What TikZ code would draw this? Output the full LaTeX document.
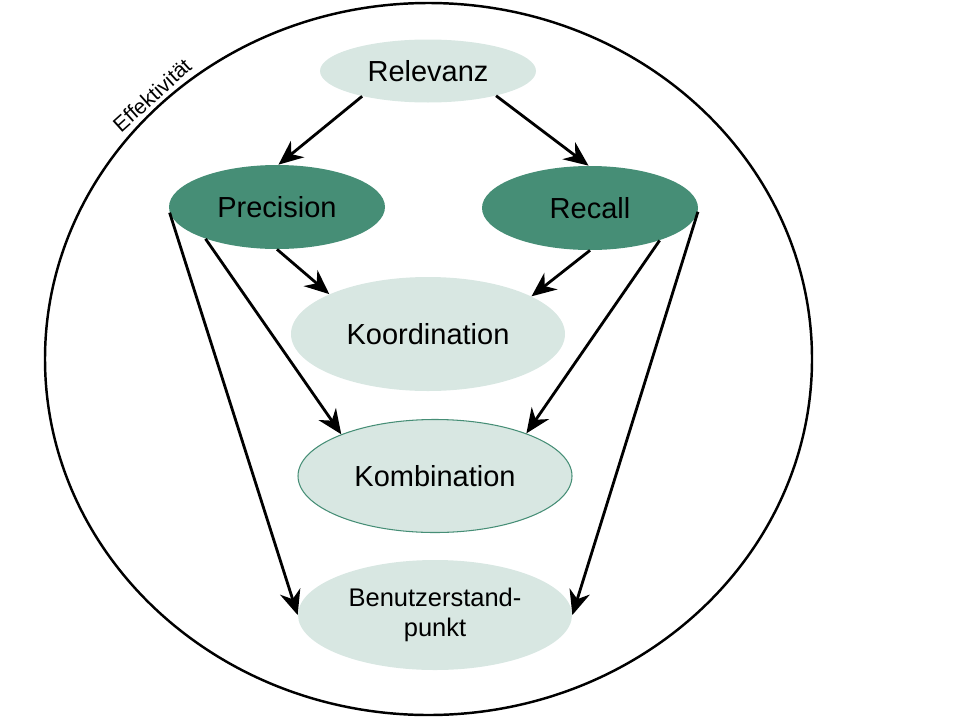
\documentclass[tikz,border=0pt]{standalone}
\usepackage{fontspec}
\setmainfont{Liberation Sans}
\usetikzlibrary{shapes.geometric,arrows.meta}
\definecolor{dunkelgruen}{HTML}{468E76}
\definecolor{hellgruen}{HTML}{D8E7E2}
\begin{document}
\begin{tikzpicture}[>={Stealth[length=14pt,width=12pt]},
 pfeil/.style={->,line width=1.6pt},
 blase/.style={ellipse,inner sep=0pt,fill=hellgruen,font=\fontsize{16.5}{19}\selectfont},
 kern/.style={ellipse,inner sep=0pt,fill=dunkelgruen,font=\fontsize{16.5}{19}\selectfont}]
 \useasboundingbox (0,0) rectangle (19.2,-14.4);
 % Effektivitaet
 \draw[line width=1.4pt] (8.57,-7.18) ellipse [x radius=7.67,y radius=7.12];
 \node[rotate=42,font=\fontsize{12}{14}\selectfont] (eff) at (3.04,-1.9) {Effektivität};
 % Knoten
 \node[blase,minimum width=4.32cm,minimum height=1.26cm] (rel) at (8.56,-1.42) {Relevanz};
 \node[kern,minimum width=4.32cm,minimum height=1.68cm] (prec) at (5.54,-4.14) {Precision};
 \node[kern,minimum width=4.32cm,minimum height=1.68cm] (rec) at (11.8,-4.16) {Recall};
 \node[blase,minimum width=5.48cm,minimum height=2.28cm] (koord) at (8.56,-6.68) {Koordination};
 \node[blase,draw=dunkelgruen,line width=0.6pt,minimum width=5.48cm,minimum height=2.26cm] (komb) at (8.70,-9.52) {Kombination};
 \node[blase,align=center,font=\fontsize{14.5}{17.5}\selectfont,minimum width=5.48cm,minimum height=2.2cm] (ben) at (8.70,-12.30) {Benutzerstand-\\punkt};
 % Pfeile
 \draw[pfeil] (rel.201) -- (prec.88);
 \draw[pfeil] (rel.340) -- (rec.92);
 \draw[pfeil] (prec.270) -- (koord.158);
 \draw[pfeil] (rec.270) -- (koord.20);
 \draw[pfeil] (prec.204) -- (komb.156);
 \draw[pfeil] (rec.335) -- (komb.25);
 \draw[pfeil] (prec.183) -- (ben.180);
 \draw[pfeil] (rec.358) -- (ben.0);
\end{tikzpicture}
\end{document}
